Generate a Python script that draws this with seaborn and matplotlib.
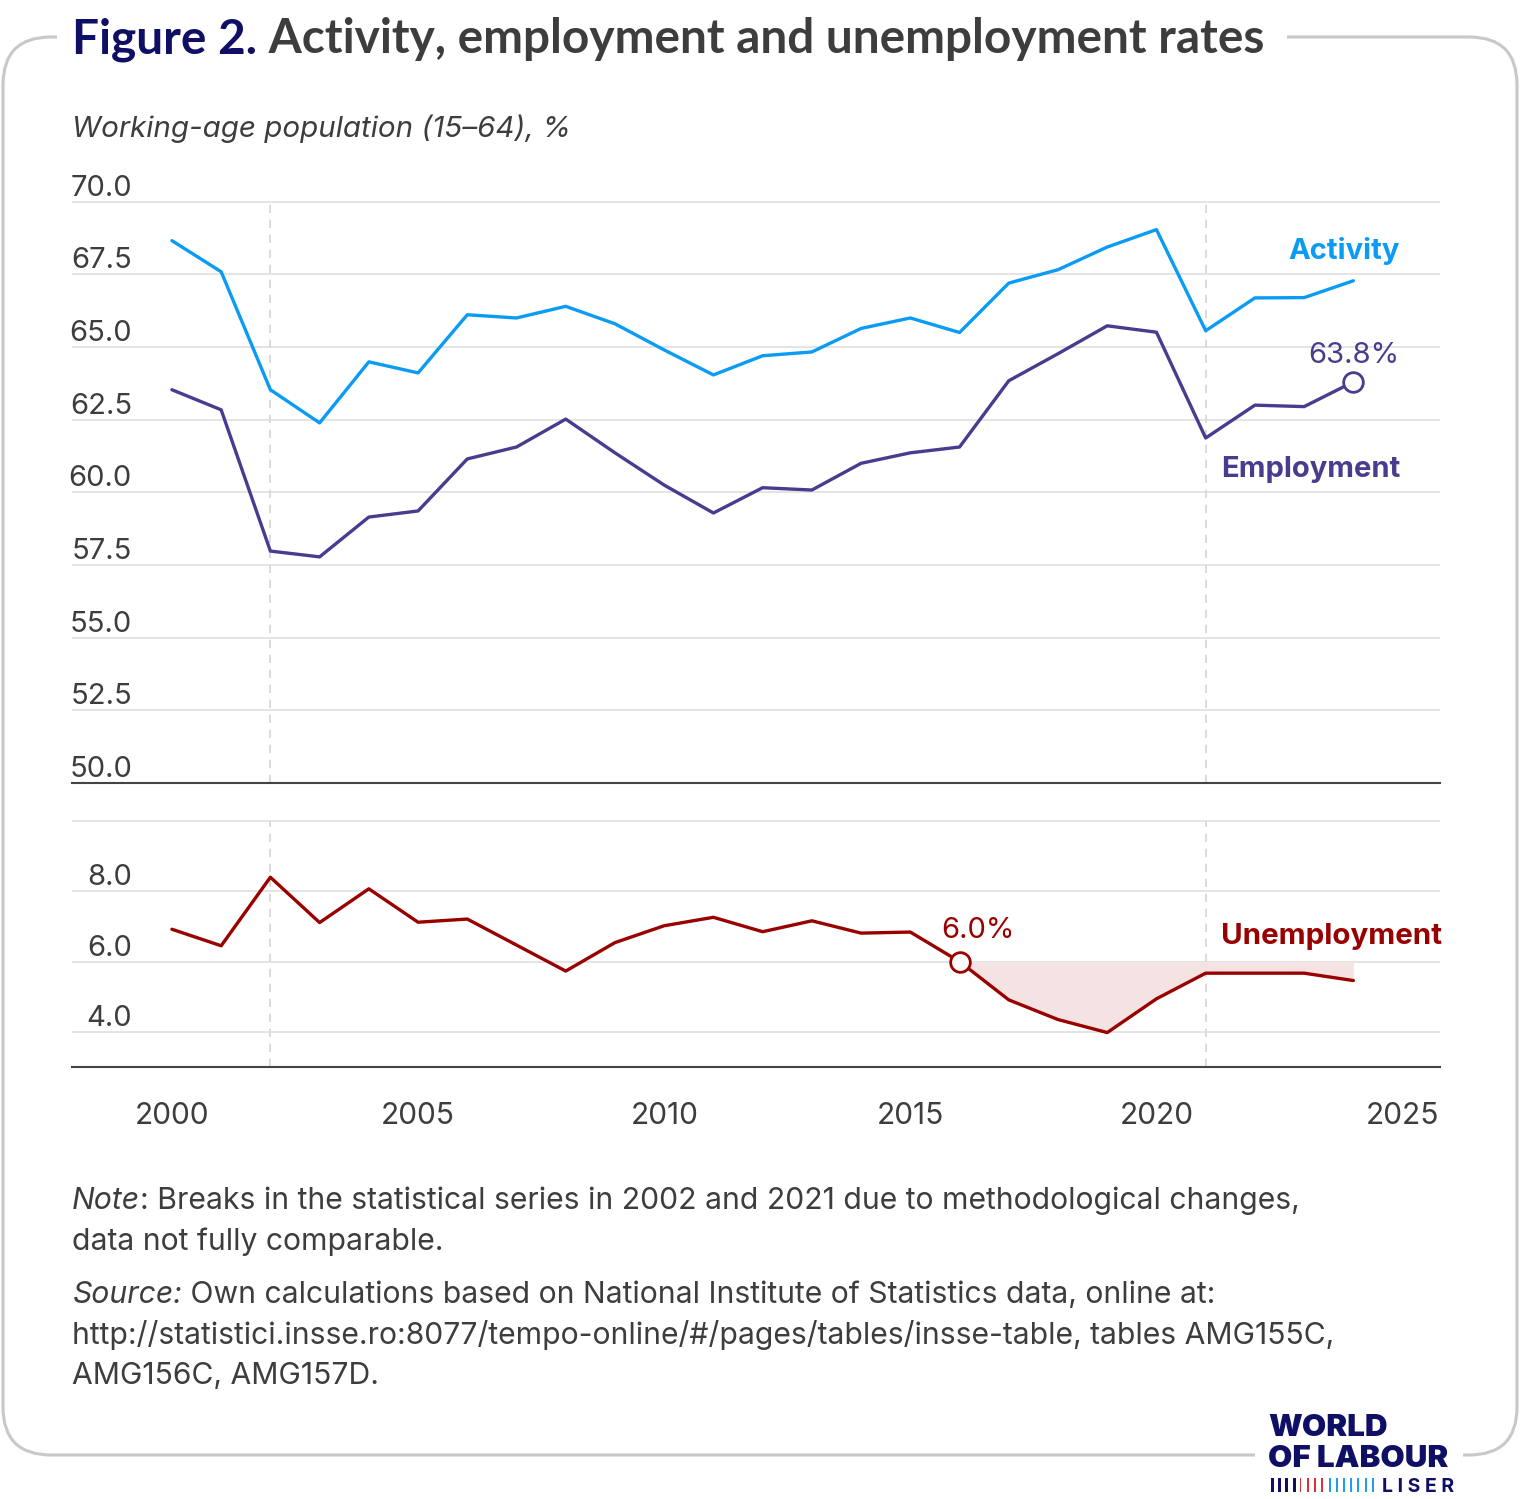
import numpy as np
import pandas as pd
import matplotlib
matplotlib.use("Agg")
import matplotlib.pyplot as plt
import matplotlib.transforms as mtransforms
from matplotlib.patches import FancyBboxPatch, Rectangle
import seaborn as sns

# data (working-age population 15-64, %)
years = list(range(2000, 2025))
activity = [68.66, 67.59, 63.53, 62.39, 64.49, 64.11, 66.11, 66.0, 66.4, 65.8,
            64.9, 64.04, 64.7, 64.83, 65.64, 66.0, 65.5, 67.2, 67.66, 68.44,
            69.04, 65.56, 66.69, 66.7, 67.28]
employment = [63.53, 62.84, 57.98, 57.78, 59.15, 59.36, 61.15, 61.56, 62.52, 61.36,
              60.25, 59.29, 60.16, 60.08, 61.0, 61.36, 61.56, 63.84, 64.77, 65.73,
              65.51, 61.87, 63.0, 62.95, 63.8]
unemployment = [6.92, 6.45, 8.40, 7.11, 8.07, 7.12, 7.21, 6.47, 5.73, 6.54,
                7.02, 7.26, 6.85, 7.16, 6.81, 6.84, 6.0, 4.91, 4.35, 3.98,
                4.94, 5.67, 5.67, 5.67, 5.46]
break_years = [2002, 2021]
top_ticks = [50.0, 52.5, 55.0, 57.5, 60.0, 62.5, 65.0, 67.5, 70.0]
bot_ticks = [4.0, 6.0, 8.0]
bot_grid = [4.0, 6.0, 8.0, 10.0]
x_major = [2000, 2005, 2010, 2015, 2020, 2025]
ref_year = 2016

df = pd.DataFrame({"year": years, "Activity": activity,
                   "Employment": employment, "Unemployment": unemployment})

BLUE = "#0a9bf5"
PURPLE = "#4a3b8f"
RED = "#990000"
FILL = "#f5e3e3"
NAVY = "#0f0f66"
TXT = "#3d3d3d"
GRID = "#dcdcdc"
AXIS = "#444444"

sns.set_theme(style="white")
plt.rcParams["font.family"] = ["Inter", "DejaVu Sans"]

W, H = 1520, 1499
fig = plt.figure(figsize=(W / 100, H / 100), dpi=100)


def fx(px):
    return px / W


def fy(py):
    return 1 - py / H


xlim = (1997.97, 2025.76)
ax_top = fig.add_axes([fx(72), fy(783), fx(1440) - fx(72), fy(198.8) - fy(783)])
ax_bot = fig.add_axes([fx(72), fy(1067), fx(1440) - fx(72), fy(817.5) - fy(1067)])

line_kw = dict(linewidth=2.4, solid_joinstyle="round", solid_capstyle="round")

# ---- top panel: activity & employment
sns.lineplot(data=df, x="year", y="Activity", ax=ax_top, color=BLUE, **line_kw)
sns.lineplot(data=df, x="year", y="Employment", ax=ax_top, color=PURPLE, **line_kw)
ax_top.set_xlim(*xlim)
ax_top.set_ylim(50, 70.1)
ax_top.set_yticks(top_ticks)
ax_top.yaxis.grid(True, color=GRID, linewidth=1.1)
ax_top.tick_params(axis="both", length=0, labelleft=False, labelbottom=False)
ax_top.set_xlabel("")
ax_top.set_ylabel("")
for s in ["top", "left", "right"]:
    ax_top.spines[s].set_visible(False)
ax_top.spines["bottom"].set_color(AXIS)
ax_top.spines["bottom"].set_linewidth(1.5)
for by in break_years:
    ax_top.axvline(by, ymin=0, ymax=20 / 20.1, color="#d4d4d4", lw=1.2,
                   ls=(0, (5, 4)), zorder=0)

sns.scatterplot(x=[years[-1]], y=[employment[-1]], ax=ax_top, s=200,
                facecolor="white", edgecolor=PURPLE, linewidth=2, zorder=5)
ax_top.annotate(f"{employment[-1]:.1f}%", xy=(years[-1], employment[-1]),
                xytext=(0, 26), textcoords="offset pixels", ha="center", va="center",
                fontsize=21, color=PURPLE)
ax_top.annotate("Activity", xy=(years[-1], activity[-1]), xytext=(46, 30),
                textcoords="offset pixels", ha="right", va="center",
                fontsize=21, fontweight="bold", color=BLUE)
ax_top.annotate("Employment", xy=(years[-1], employment[-1]), xytext=(47, -88),
                textcoords="offset pixels", ha="right", va="center",
                fontsize=21, fontweight="bold", color=PURPLE)

# ---- bottom panel: unemployment
i0 = years.index(ref_year)
ax_bot.fill_between(years[i0:], unemployment[i0:], unemployment[i0],
                    color=FILL, linewidth=0, zorder=1)
sns.lineplot(data=df, x="year", y="Unemployment", ax=ax_bot, color=RED, zorder=3,
             **line_kw)
ax_bot.set_xlim(*xlim)
ax_bot.set_ylim(3, 10.1)
ax_bot.set_yticks(bot_grid)
ax_bot.yaxis.grid(True, color=GRID, linewidth=1.1)
ax_bot.tick_params(axis="y", length=0, labelleft=False)
ax_bot.set_xlabel("")
ax_bot.set_ylabel("")
for s in ["top", "left", "right"]:
    ax_bot.spines[s].set_visible(False)
ax_bot.spines["bottom"].set_color(AXIS)
ax_bot.spines["bottom"].set_linewidth(1.5)
ax_bot.set_xticks(x_major)
ax_bot.set_xticks(years + [2025], minor=True)
ax_bot.tick_params(axis="x", which="major", direction="out", length=12, width=3,
                   color=AXIS, pad=13, labelsize=21.5, labelcolor=TXT)
ax_bot.tick_params(axis="x", which="minor", direction="out", length=12, width=1.5,
                   color=AXIS)
for by in break_years:
    ax_bot.axvline(by, ymin=0, ymax=7 / 7.1, color="#d4d4d4", lw=1.2,
                   ls=(0, (5, 4)), zorder=0)

sns.scatterplot(x=[ref_year], y=[unemployment[i0]], ax=ax_bot, s=200,
                facecolor="white", edgecolor=RED, linewidth=2, zorder=5)
ax_bot.annotate(f"{unemployment[i0]:.1f}%", xy=(ref_year, unemployment[i0]),
                xytext=(18, 31), textcoords="offset pixels", ha="center", va="center",
                fontsize=21, color=RED)
ax_bot.annotate("Unemployment", xy=(years[-1], unemployment[-1]), xytext=(89, 44),
                textcoords="offset pixels", ha="right", va="center",
                fontsize=21.3, fontweight="bold", color=RED)

# y tick labels sit above the gridlines
for ax, ticks in [(ax_top, top_ticks), (ax_bot, bot_ticks)]:
    tr = mtransforms.offset_copy(ax.get_yaxis_transform(), fig=fig, y=6, units="dots")
    for v in ticks:
        ax.text(60 / 1368, v, f"{v:.1f}", transform=tr, ha="right", va="baseline",
                fontsize=21, color=TXT)

# ---- frame, title, notes
ident = mtransforms.IdentityTransform()
fig.add_artist(FancyBboxPatch((3, H - 1455), 1514, 1418,
                              boxstyle="round,pad=0,rounding_size=48",
                              transform=ident, fill=False, ec="#c8c8c8", lw=2.2, zorder=1))
fig.add_artist(Rectangle((57, H - 62), 1230, 50, transform=ident, fc="white",
                         ec="none", zorder=2))
fig.add_artist(Rectangle((1255, H - 1470), 208, 30, transform=ident, fc="white",
                         ec="none", zorder=2))

renderer = fig.canvas.get_renderer()


def run(parts, x_px, y_px, **kw):
    for txt, style, color in parts:
        t = fig.text(fx(x_px), fy(y_px), txt, style=style, color=color,
                     va="baseline", zorder=3, **kw)
        x_px += t.get_window_extent(renderer).width


run([("Figure 2.", "normal", NAVY),
     (" Activity, employment and unemployment rates", "normal", TXT)],
    72, 53, fontsize=34.4, fontweight="bold", family=["Lato", "DejaVu Sans"])

fig.text(fx(72), fy(137), "Working-age population (15\u201364), %", style="italic",
         fontsize=21.3, color=TXT, va="baseline")

run([("Note", "italic", TXT),
     (": Breaks in the statistical series in 2002 and 2021 due to methodological changes,",
      "normal", TXT)], 72, 1209, fontsize=21.7)
fig.text(fx(72), fy(1250), "data not fully comparable.", fontsize=21.7, color=TXT,
         va="baseline")
run([("Source:", "italic", TXT),
     (" Own calculations based on National Institute of Statistics data, online at:",
      "normal", TXT)], 72, 1303, fontsize=21.7)
fig.text(fx(72), fy(1344),
         "http://statistici.insse.ro:8077/tempo-online/#/pages/tables/insse-table, tables AMG155C,",
         fontsize=21.7, color=TXT, va="baseline")
fig.text(fx(72), fy(1384), "AMG156C, AMG157D.", fontsize=21.7, color=TXT, va="baseline")

# ---- logo
fig.text(fx(1268), fy(1436), "WORLD", fontsize=22.5, fontweight="black", color=NAVY,
         va="baseline", zorder=3)
fig.text(fx(1268), fy(1467), "OF LABOUR", fontsize=22.5, fontweight="black", color=NAVY,
         va="baseline", zorder=3)
bar_cols = [NAVY] * 4 + ["#e0303a"] * 4 + ["#1e9cf0"] * 7
bar_w = [3] * 4 + [1.6] * 4 + [2] * 7
for k, (c, w) in enumerate(zip(bar_cols, bar_w)):
    fig.add_artist(Rectangle((1271 + k * 7.2, H - 1492), w, 14, transform=ident,
                             fc=c, ec="none", zorder=3))
fig.text(fx(1382), fy(1492), "L I S E R", fontsize=14, fontweight="bold", color=NAVY,
         va="baseline", zorder=3)

fig.savefig("out.png", dpi=100)
